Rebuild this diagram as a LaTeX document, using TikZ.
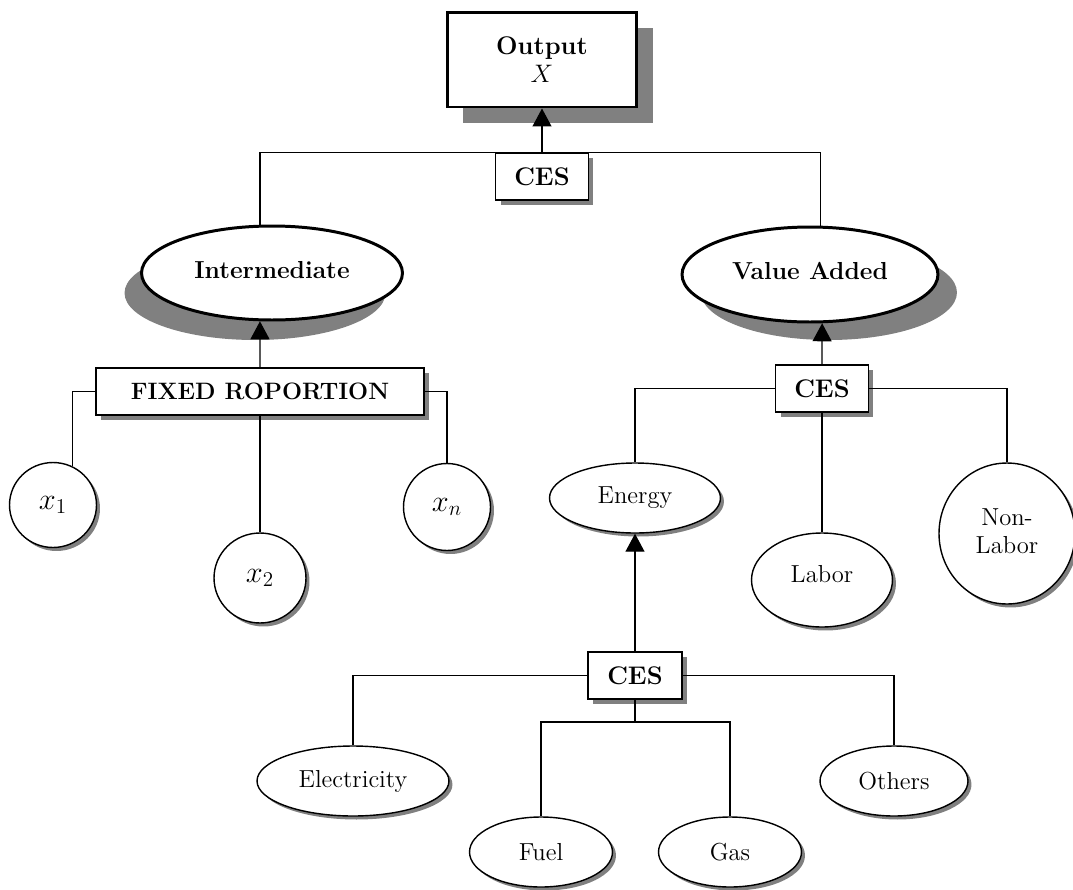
\documentclass[tikz,border=0pt]{standalone}
\usetikzlibrary{shapes.geometric,shadows,arrows.meta}
\tikzset{
  conn/.style={line width=0.7pt},
  up/.style={conn,-{Triangle[length=0.36cm,width=0.38cm]}},
  rule/.style={draw,line width=0.9pt,fill=white,inner sep=0pt,
    minimum height=0.94cm,font=\fontsize{14.5}{17}\selectfont\bfseries,
    drop shadow={shadow xshift=0.1cm,shadow yshift=-0.1cm,fill=black!50,opacity=1}},
  good/.style={draw,ellipse,line width=0.8pt,fill=white,inner sep=0pt,
    font=\fontsize{14}{16}\selectfont,
    drop shadow={shadow xshift=0.07cm,shadow yshift=-0.07cm,fill=black!50,opacity=1}},
  nest/.style={draw,ellipse,line width=1.7pt,fill=white,inner sep=0pt,
    minimum height=1.88cm,font=\fontsize{14}{16}\selectfont\bfseries}
}
\begin{document}
\begin{tikzpicture}[x=0.02cm,y=-0.02cm]
\useasboundingbox (0,0) rectangle (1073,890);
% top level
\node[draw,line width=1.7pt,fill=white,minimum width=3.8cm,minimum height=1.9cm,align=center,
  drop shadow={shadow xshift=0.32cm,shadow yshift=-0.32cm,fill=black!50,opacity=1}]
  (out) at (542,59.5) {\fontsize{14.5}{17}\selectfont\bfseries Output\\[2pt]\fontsize{15}{17}\selectfont$X$};
\node[rule,minimum width=1.86cm] (ces1) at (542,176.5) {CES};
\node[nest,minimum width=5.22cm,drop shadow={shadow xshift=-0.34cm,shadow yshift=-0.4cm,fill=black!50,opacity=1}]
  (inter) at (272,273) {\raisebox{4pt}{Intermediate}};
\node[nest,minimum width=5.12cm,minimum height=1.9cm,drop shadow={shadow xshift=0.38cm,shadow yshift=-0.36cm,fill=black!50,opacity=1}]
  (va) at (810,274.5) {\raisebox{4pt}{Value Added}};
% intermediate inputs
\node[rule,minimum width=6.56cm,font=\fontsize{13.5}{16}\selectfont\bfseries] (fixed) at (260,391.5) {FIXED ROPORTION};
\node[good,minimum width=1.74cm,minimum height=1.7cm,font=\fontsize{17}{19}\selectfont] (x1) at (53,505) {$x_1$};
\node[good,minimum width=1.84cm,minimum height=1.8cm,font=\fontsize{17}{19}\selectfont] (x2) at (260,578) {$x_2$};
\node[good,minimum width=1.74cm,minimum height=1.74cm,font=\fontsize{17}{19}\selectfont] (xn) at (447,507) {$x_n$};
% value added
\node[rule,minimum width=1.86cm] (ces2) at (822,388.5) {CES};
\node[good,minimum width=3.42cm,minimum height=1.4cm] (energy) at (635,498) {Energy};
\node[good,minimum width=2.82cm,minimum height=1.88cm] (labor) at (822,580) {\raisebox{7pt}{Labor}};
\node[good,minimum width=2.72cm,minimum height=2.82cm] (nonlab) at (1007,533.5)
  {\raisebox{8pt}{\begin{tabular}{@{}c@{}}Non-\\Labor\end{tabular}}};
% energy
\node[rule,minimum width=1.88cm] (ces3) at (635,675.5) {CES};
\node[good,minimum width=3.84cm,minimum height=1.4cm] (elec) at (353,781) {Electricity};
\node[good,minimum width=2.96cm,minimum height=1.4cm] (others) at (894,781) {Others};
\node[good,minimum width=2.86cm,minimum height=1.4cm] (fuel) at (541,852) {Fuel};
\node[good,minimum width=2.86cm,minimum height=1.4cm] (gas) at (730,852) {Gas};
\coordinate (jn) at (635,722);
% connectors
\draw[up] (ces1.north) -- (out.south);
\draw[conn] (inter.104) |- (ces1.north west);
\draw[conn] (va.78) |- (ces1.north east);
\draw[up] (fixed.north) -- (inter.256);
\draw[conn] (fixed.west) -| (x1.63);
\draw[conn] (fixed.south) -- (x2.north);
\draw[conn] (fixed.east) -| (xn.north);
\draw[up] (ces2.north) -- (va.284);
\draw[conn] (ces2.west) -| (energy.north);
\draw[conn] (ces2.south) -- (labor.north);
\draw[conn] (ces2.east) -| (nonlab.north);
\draw[up] (ces3.north) -- (energy.south);
\draw[conn] (ces3.west) -| (elec.north);
\draw[conn] (ces3.east) -| (others.north);
\draw[conn] (ces3.south) -- (jn);
\draw[conn] (fuel.north) |- (jn) -| (gas.north);
\end{tikzpicture}
\end{document}
